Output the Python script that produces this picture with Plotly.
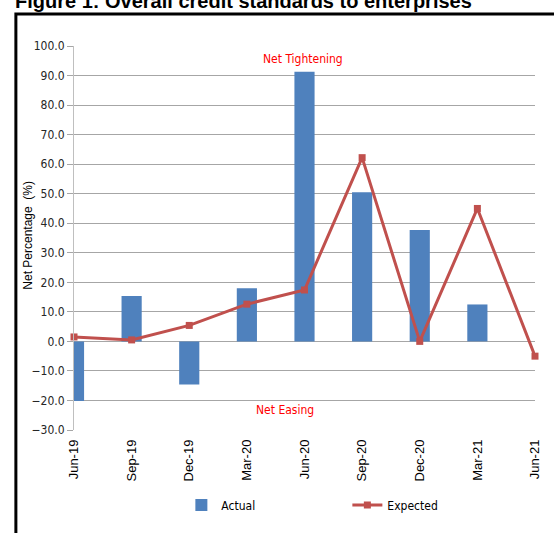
import plotly.graph_objects as go

quarters = ["Jun-19", "Sep-19", "Dec-19", "Mar-20", "Jun-20", "Sep-20", "Dec-20", "Mar-21", "Jun-21"]
actual = [-20.2, 15.4, -14.6, 18.0, 91.3, 50.5, 37.7, 12.5, None]
expected = [1.5, 0.5, 5.4, 12.6, 17.4, 62.2, 0.0, 45.0, -5.0]

y_ticks = [-30, -20, -10, 0, 10, 20, 30, 40, 50, 60, 70, 80, 90, 100]

W, H = 554, 533
L, R, T, B = 74, 12, 46, 103
pw, ph = W - L - R, H - T - B

def px_x(p):
    return (p - L) / pw

def px_y(p):
    return (H - B - p) / ph

narrow = "DejaVu Sans Condensed, Liberation Sans Narrow, Arial Narrow, sans-serif"
regular = "Liberation Sans, Arial, sans-serif"

fig = go.Figure()
fig.add_trace(go.Bar(
    x=quarters, y=actual, name="Actual",
    marker=dict(color="#4F81BD", line=dict(width=0)),
    width=0.35,
))
fig.add_trace(go.Scatter(
    x=quarters, y=expected, name="Expected", mode="lines+markers",
    line=dict(color="#C0504D", width=3),
    marker=dict(symbol="square", size=7, color="#C0504D"),
    cliponaxis=False,
))

fig.update_layout(
    width=W, height=H,
    margin=dict(l=L, r=R, t=T, b=B),
    plot_bgcolor="white", paper_bgcolor="white",
    font=dict(family=narrow, size=12, color="#000"),
    showlegend=True,
    legend=dict(orientation="h", x=px_x(183), y=px_y(505), xanchor="left", yanchor="middle",
                entrywidth=121, font=dict(family=narrow, size=12, color="#000"),
                bgcolor="rgba(0,0,0,0)"),
    xaxis=dict(
        type="category", range=[0, 8], tickangle=-90,
        showgrid=False, showline=False, ticks="",
        ticklabelstandoff=6,
        tickfont=dict(family=regular, size=13, color="#000"),
    ),
    yaxis=dict(
        range=[-30, 100], tickvals=y_ticks, tickformat=".1f",
        showgrid=True, gridcolor="#A6A6A6", gridwidth=1,
        zeroline=True, zerolinecolor="#A6A6A6", zerolinewidth=1,
        showline=True, linecolor="#BFBFBF", linewidth=1,
        ticks="outside", ticklen=6, tickcolor="#A6A6A6",
        tickfont=dict(family=narrow, size=12, color="#262626"),
    ),
    bargap=0.6,
)

fig.add_annotation(x=px_x(27), y=px_y(235), xref="paper", yref="paper", text="Net Percentage  (%)",
                   xanchor="center", yanchor="middle",
                   textangle=-90, showarrow=False,
                   font=dict(family=regular, size=12, color="#000"))

fig.add_annotation(x=3.97, y=95.5, xref="x", yref="y", text="Net Tightening", showarrow=False,
                   font=dict(family=narrow, size=12, color="#FF0000"))
fig.add_annotation(x=3.67, y=-23.3, xref="x", yref="y", text="Net Easing", showarrow=False,
                   font=dict(family=narrow, size=12, color="#FF0000"))

fig.add_annotation(x=px_x(12), y=px_y(1), xref="paper", yref="paper", xanchor="left", yanchor="middle",
                   text="<b>Figure 1: Overall credit standards to enterprises</b>", showarrow=False,
                   font=dict(family=regular, size=20, color="#000"))

fig.add_shape(type="rect", xref="paper", yref="paper",
              x0=px_x(15), x1=px_x(620), y0=px_y(600), y1=px_y(14),
              line=dict(color="#000", width=3), fillcolor="rgba(0,0,0,0)", layer="below")

fig.write_html("out.html")
